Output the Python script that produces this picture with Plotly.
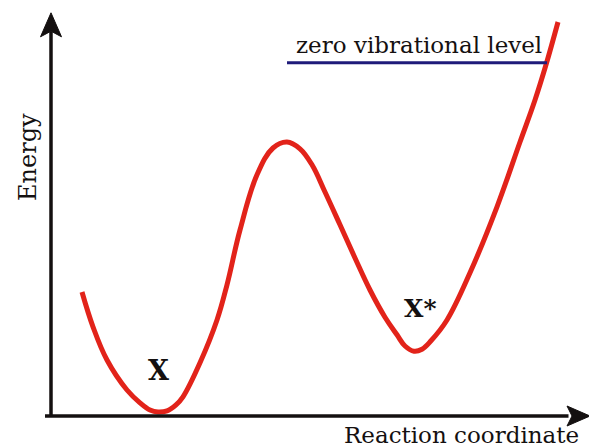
import plotly.graph_objects as go

# Potential energy curve (reaction coordinate vs energy)
reaction_coord = [0.62, 0.84, 1.12, 1.52, 1.78, 1.98, 2.14, 2.32, 2.50, 2.64, 2.98, 3.32,
                  3.52, 3.78, 4.12, 4.44, 4.72, 4.98, 5.22, 5.48, 5.78, 6.08, 6.38, 6.68,
                  6.92, 7.08, 7.26, 7.42, 7.60, 7.92, 8.38, 8.92, 9.38, 9.68, 9.90, 10.14]
energy = [3.10, 2.23, 1.40, 0.65, 0.33, 0.15, 0.10, 0.13, 0.28, 0.48, 1.33, 2.40,
          3.28, 4.65, 6.03, 6.70, 6.85, 6.68, 6.28, 5.60, 4.78, 3.95, 3.15, 2.47,
          2.03, 1.75, 1.62, 1.67, 1.88, 2.40, 3.58, 5.23, 6.85, 7.90, 8.78, 9.85]

# Zero vibrational level
zero_level_x = [4.72, 9.92]
zero_level_y = [8.83, 8.83]

# Labels
state_labels = ["X", "X*"]
zero_level_label = "zero vibrational level"
x_title = "Reaction coordinate"
y_title = "Energy"

RED = "#e2231a"
NAVY = "#1f1b7a"
BLACK = "#141010"
FONT = "DejaVu Serif"

fig = go.Figure()
fig.add_trace(go.Scatter(x=reaction_coord, y=energy, mode="lines",
                         line=dict(color=RED, width=5, shape="spline", smoothing=1.1),
                         hoverinfo="skip", showlegend=False))
fig.add_trace(go.Scatter(x=zero_level_x, y=zero_level_y, mode="lines",
                         line=dict(color=NAVY, width=3),
                         hoverinfo="skip", showlegend=False))

XR = [-1.02, 10.76]
YR = [-0.775, 10.4]

shapes = [
    # y axis line
    dict(type="line", xref="x", yref="y", x0=0, x1=0, y0=0, y1=9.6,
         line=dict(color=BLACK, width=3.5)),
    # x axis line
    dict(type="line", xref="x", yref="y", x0=-0.12, x1=10.35, y0=0, y1=0,
         line=dict(color=BLACK, width=3.5)),
    # y arrowhead
    dict(type="path", xref="x", yref="y",
         path="M 0 10.08 L -0.21 9.48 L 0 9.62 L 0.21 9.48 Z",
         fillcolor=BLACK, line=dict(color=BLACK, width=1)),
    # x arrowhead
    dict(type="path", xref="x", yref="y",
         path="M 10.78 0 L 10.32 0.25 L 10.42 0 L 10.32 -0.25 Z",
         fillcolor=BLACK, line=dict(color=BLACK, width=1)),
]

# minima positions from data for labels
i_min1 = min(range(0, 12), key=lambda i: energy[i])
i_min2 = min(range(20, 30), key=lambda i: energy[i])

annotations = [
    dict(x=reaction_coord[i_min1] + 0.0, y=energy[i_min1] + 1.03, text="<b>" + state_labels[0] + "</b>",
         showarrow=False, font=dict(family=FONT, size=27, color=BLACK), xanchor="center", yanchor="middle"),
    dict(x=reaction_coord[i_min2] + 0.12, y=energy[i_min2] + 1.07, text="<b>" + state_labels[1] + "</b>",
         showarrow=False, font=dict(family=FONT, size=25, color=BLACK), xanchor="center", yanchor="middle"),
    dict(x=4.86, y=zero_level_y[0] + 0.08, text=zero_level_label, showarrow=False,
         font=dict(family=FONT, size=23, color=BLACK), xanchor="left", yanchor="bottom"),
    dict(x=10.6, y=-0.48, text=x_title, showarrow=False,
         font=dict(family=FONT, size=23, color=BLACK), xanchor="right", yanchor="middle"),
    dict(x=-0.46, y=6.475, text=y_title, showarrow=False, textangle=-90,
         font=dict(family=FONT, size=24, color=BLACK), xanchor="center", yanchor="middle"),
]

fig.update_layout(
    width=589, height=447,
    margin=dict(l=0, r=0, t=0, b=0),
    paper_bgcolor="white", plot_bgcolor="white",
    xaxis=dict(range=XR, visible=False, fixedrange=True),
    yaxis=dict(range=YR, visible=False, fixedrange=True),
    shapes=shapes, annotations=annotations,
)

fig.write_html("out.html", config={"displayModeBar": False},
               post_script="document.body.style.margin='0px';document.body.style.overflow='hidden';")
